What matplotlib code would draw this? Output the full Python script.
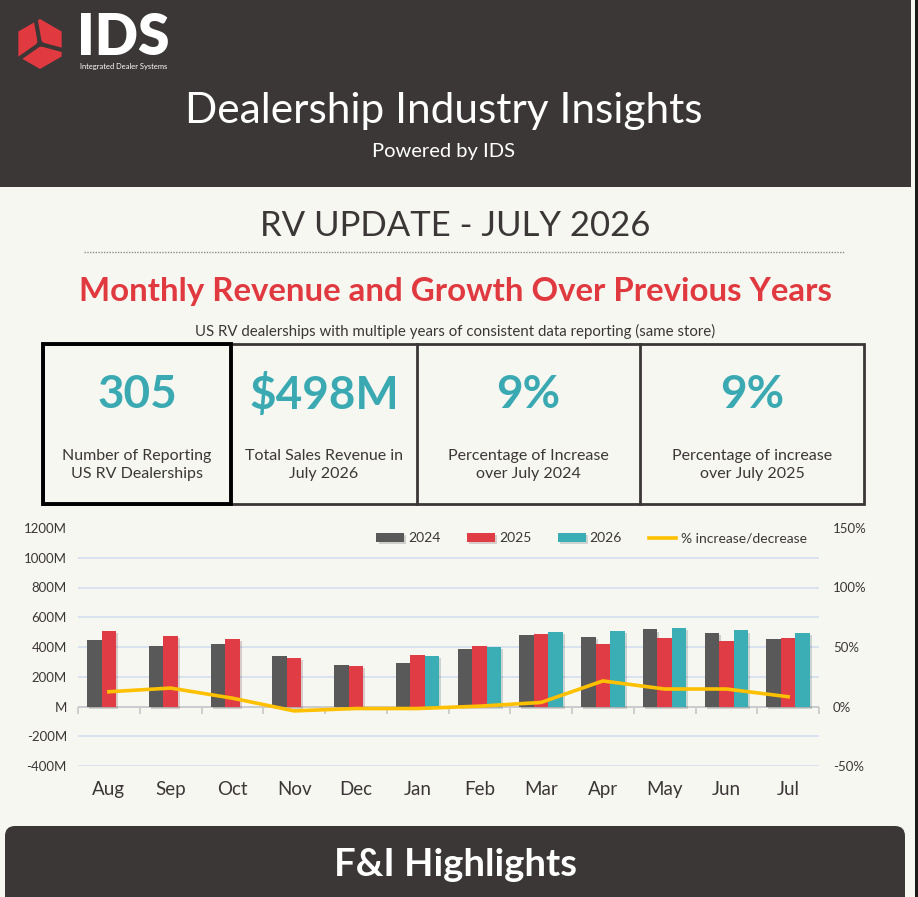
import numpy as np
import matplotlib
matplotlib.use('Agg')
import matplotlib.pyplot as plt
from matplotlib.patches import Rectangle, FancyBboxPatch, Polygon
from matplotlib import patheffects as pe
from matplotlib import markers

plt.rcParams['font.family'] = ['Lato', 'DejaVu Sans']

# ---- data ----
months = ['Aug', 'Sep', 'Oct', 'Nov', 'Dec', 'Jan', 'Feb', 'Mar', 'Apr', 'May', 'Jun', 'Jul']
rev_2024 = [447, 409, 422, 337, 276, 294, 384, 479, 470, 518, 495, 457]
rev_2025 = [506, 472, 454, 325, 273, 346, 405, 486, 418, 459, 443, 459]
rev_2026 = [np.nan, np.nan, np.nan, np.nan, np.nan, 337, 402, 502, 508, 529, 511, 497]
pct_change = [12.4, 15.5, 7.0, -3.7, -1.7, -1.7, 0.3, 3.4, 21.5, 14.7, 14.7, 8.2]

left_ticks = [-400, -200, 0, 200, 400, 600, 800, 1000, 1200]
right_ticks = [-50, 0, 50, 100, 150]

kpi_values = ['305', '$498M', '9%', '9%']
kpi_labels = ['Number of Reporting\nUS RV Dealerships',
              'Total Sales Revenue in\nJuly 2026',
              'Percentage of Increase\nover July 2024',
              'Percentage of increase\nover July 2025']

# colours
BG = '#f7f7f2'
DARK = '#3b3736'
RED = '#e0393f'
TEAL = '#3aa9b2'
C2024 = '#595959'
C2025 = '#e03c46'
C2026 = '#3aadb5'
GOLD = '#ffc000'

W, H = 918, 897
fig = plt.figure(figsize=(W / 100, H / 100), dpi=100, facecolor=BG)

# page overlay in pixel coordinates
pg = fig.add_axes([0, 0, 1, 1], zorder=0)
pg.set_xlim(0, W)
pg.set_ylim(H, 0)
pg.axis('off')

# header band
pg.add_patch(Rectangle((0, 0), 911, 187, color=DARK, lw=0))
pg.add_patch(Rectangle((915, 0), 3, H, color='#1a1a1a', lw=0))

# logo: red hexagon cut in three pieces
cx, cy, R = 40, 44, 25
ang = np.radians(np.arange(90, 450, 60))
pg.add_patch(Polygon(np.c_[cx + R * np.cos(ang), cy - R * np.sin(ang)], closed=True,
                     color='#e0393f', lw=0))
for a in [100, 215, -15]:
    t = np.radians(a)
    pg.plot([cx, cx + 1.3 * R * np.cos(t)], [cy, cy - 1.3 * R * np.sin(t)], color=DARK, lw=3)
tri = np.radians([100, 215, -15])
pg.add_patch(Polygon(np.c_[cx + 6 * np.cos(tri), cy - 6 * np.sin(tri)], closed=True, color=DARK, lw=0))
pg.text(77, 38, 'IDS', color='white', fontsize=41, fontweight='heavy', va='center', ha='left')
pg.text(80, 66, 'Integrated Dealer Systems', color='white', fontsize=5.4, va='center', ha='left')

pg.text(444, 111, 'Dealership Industry Insights', color='white', fontsize=30.5, ha='center', va='center')
pg.text(444, 151, 'Powered by IDS', color='white', fontsize=14.5, ha='center', va='center')

pg.text(455, 226, 'RV UPDATE - JULY 2026', color=DARK, fontsize=25, ha='center', va='center')
pg.plot([84, 845], [252, 252], color='#8c8c8c', lw=1, ls=(0, (1, 1)))

pg.text(455, 291, 'Monthly Revenue and Growth Over Previous Years', color=RED, fontsize=23.8,
        fontweight='bold', ha='center', va='center')
pg.text(455, 331, 'US RV dealerships with multiple years of consistent data reporting (same store)',
        color=DARK, fontsize=10.8, ha='center', va='center')

# KPI boxes
edges = [43, 231, 417, 640, 864]
top, bot = 344, 504
pg.add_patch(Rectangle((edges[0], top), edges[-1] - edges[0], bot - top, fill=False, ec=DARK, lw=2))
for xe in edges[2:-1]:
    pg.plot([xe, xe], [top, bot], color=DARK, lw=2)
pg.add_patch(Rectangle((edges[0], top), edges[1] - edges[0], bot - top, fill=False, ec='black', lw=2.8))
for i in range(4):
    xc = (edges[i] + edges[i + 1]) / 2
    pg.text(xc, 395, kpi_values[i], color=TEAL, fontsize=33, fontweight='bold', ha='center', va='center')
    pg.text(xc, 465, kpi_labels[i], color=DARK, fontsize=11.5, ha='center', va='center', linespacing=1.3)

# bottom box
pg.add_patch(FancyBboxPatch((5, 826), 900, 90, boxstyle='round,pad=0,rounding_size=10', color=DARK, lw=0))
pg.text(456, 865, 'F&I Highlights', color='white', fontsize=27.5, fontweight='bold', ha='center', va='center')

# ---- chart ----
x0, x1, y0, y1 = 78, 819, 528, 766
ax = fig.add_axes([x0 / W, 1 - y1 / H, (x1 - x0) / W, (y1 - y0) / H], zorder=1)
ax.set_facecolor('none')
x = np.arange(len(months))
bw = 0.235
shadow = [pe.SimplePatchShadow(offset=(1.5, -1.5), alpha=0.18), pe.Normal()]
b1 = ax.bar(x - bw, rev_2024, bw, color=C2024, label='2024', zorder=3)
b2 = ax.bar(x, rev_2025, bw, color=C2025, label='2025', zorder=3)
b3 = ax.bar(x + bw, rev_2026, bw, color=C2026, label='2026', zorder=3)
for bars in (b1, b2, b3):
    for p in bars:
        p.set_path_effects(shadow)

ax.set_xlim(-0.5, len(months) - 0.5)
ax.set_ylim(left_ticks[0], left_ticks[-1])
ax.set_yticks(left_ticks)
ax.set_yticklabels([f'{v}M' if v != 0 else 'M' for v in left_ticks])
ax.yaxis.grid(True, color='#d5def0', lw=1.2)
ax.get_ygridlines()[-1].set_visible(False)
ax.set_axisbelow(True)
for s in ax.spines.values():
    s.set_visible(False)
ax.tick_params(axis='y', length=0, pad=8, labelsize=9.5, labelcolor=DARK)
ax.set_xticks(x)
ax.set_xticklabels(months)
ax.tick_params(axis='x', length=0, pad=11, labelsize=13.5, labelcolor=DARK)

# category axis at zero with boundary ticks
ax.axhline(0, color='#c8c8c8', lw=1.2, zorder=2)
bounds = np.arange(len(months) + 1) - 0.5
ax.plot(bounds, np.zeros_like(bounds), ls='none', marker=markers.TICKDOWN, ms=5,
        mec='#c8c8c8', mew=1.2, zorder=2, clip_on=False)

ax2 = ax.twinx()
ax2.set_ylim(right_ticks[0], right_ticks[-1])
ax2.set_yticks(right_ticks)
ax2.set_yticklabels([f'{v}%' for v in right_ticks])
ax2.tick_params(axis='y', length=0, pad=10, labelsize=9.5, labelcolor=DARK)
for s in ax2.spines.values():
    s.set_visible(False)
ln, = ax2.plot(x, pct_change, color=GOLD, lw=2.6, label='% increase/decrease', zorder=5)

handles = [b1, b2, b3, ln]
ax2.legend(handles, [h.get_label() for h in handles], loc='upper right', bbox_to_anchor=(1.0, 1.035),
           ncol=4, frameon=False, fontsize=10, handlelength=2.0, handleheight=0.6,
           columnspacing=1.9, handletextpad=0.3, labelcolor=DARK)

fig.savefig('out.png', dpi=100, facecolor=BG)
